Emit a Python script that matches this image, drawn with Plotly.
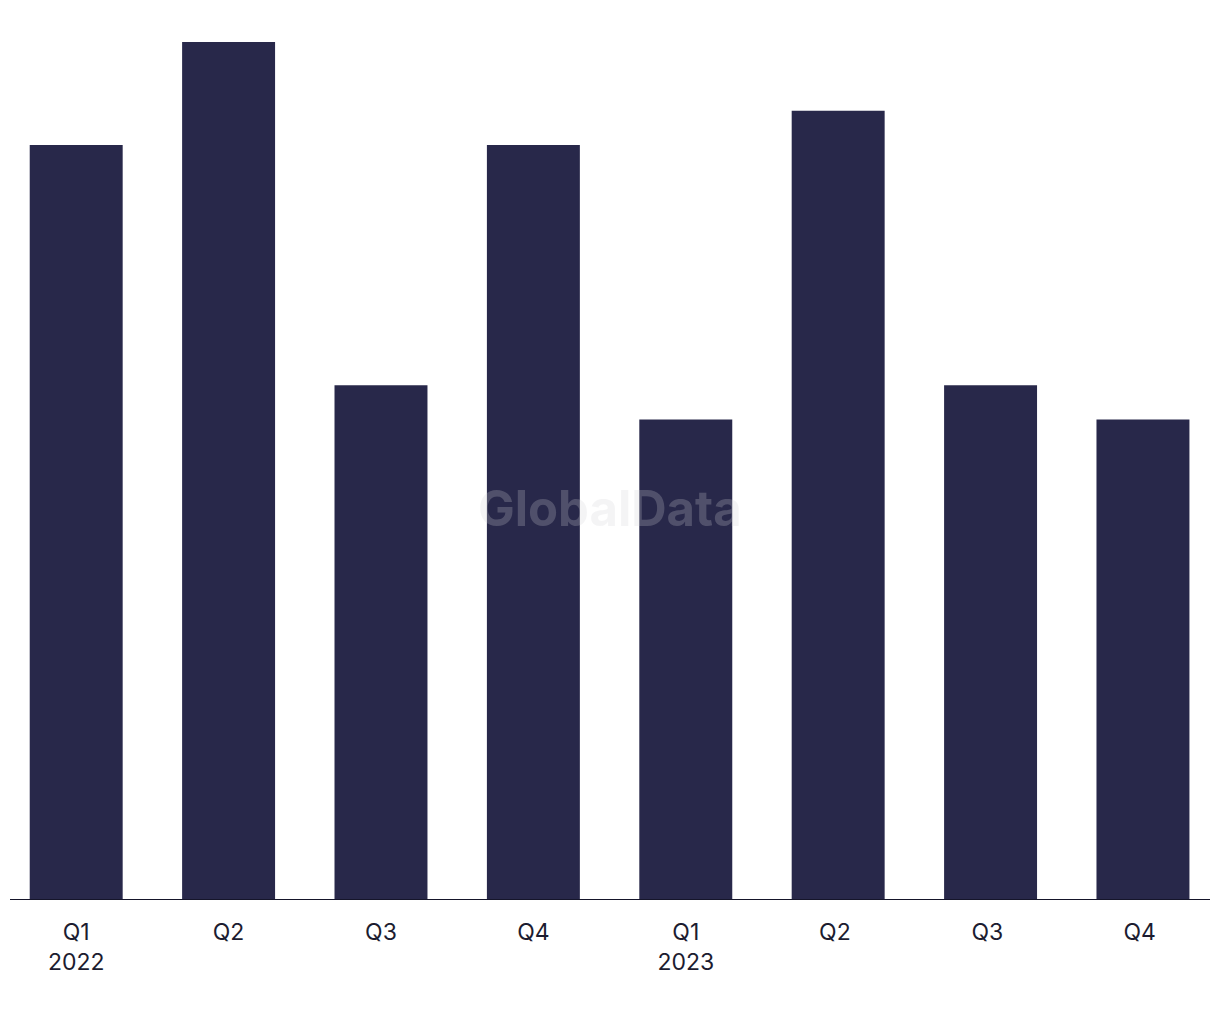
import plotly.graph_objects as go

quarters = ["Q1<br>2022", "Q2", "Q3", "Q4", "Q1<br>2023", "Q2 ", "Q3 ", "Q4 "]
deals = [22, 25, 15, 22, 14, 23, 15, 14]

BAR = "#28284a"
INK = "#1c1c30"

fig = go.Figure(
    go.Bar(
        x=quarters,
        y=deals,
        marker=dict(color=BAR, line=dict(width=0)),
        width=0.61,
        hoverinfo="x+y",
    )
)

fig.update_layout(
    width=1220,
    height=1020,
    margin=dict(l=0, r=0, t=8, b=128),
    paper_bgcolor="white",
    plot_bgcolor="white",
    showlegend=False,
    font=dict(family="Inter, Liberation Sans, Arial", color=INK, size=23),
)

fig.update_xaxes(
    type="category",
    range=[-0.4475, 7.558],
    showgrid=False,
    showline=False,
    zeroline=False,
    ticks="outside",
    ticklen=11,
    tickcolor="rgba(0,0,0,0)",
    tickfont=dict(size=23, color=INK),
)
fig.update_yaxes(
    range=[0, 25.76],
    showgrid=False,
    zeroline=False,
    showline=False,
    showticklabels=False,
    ticks="",
)

# baseline axis line
fig.add_shape(
    type="line", xref="paper", yref="y",
    x0=2 / 1220, x1=1202 / 1220, y0=0, y1=0,
    line=dict(color="#15152a", width=2),
)

# watermark
fig.add_annotation(
    text="<b>GlobalData</b>",
    xref="paper", yref="paper",
    x=0.4934, y=0.443,
    showarrow=False,
    font=dict(size=49, color="rgba(207,207,215,0.24)", family="Inter, Liberation Sans, Arial"),
)

fig.write_html("out.html")
